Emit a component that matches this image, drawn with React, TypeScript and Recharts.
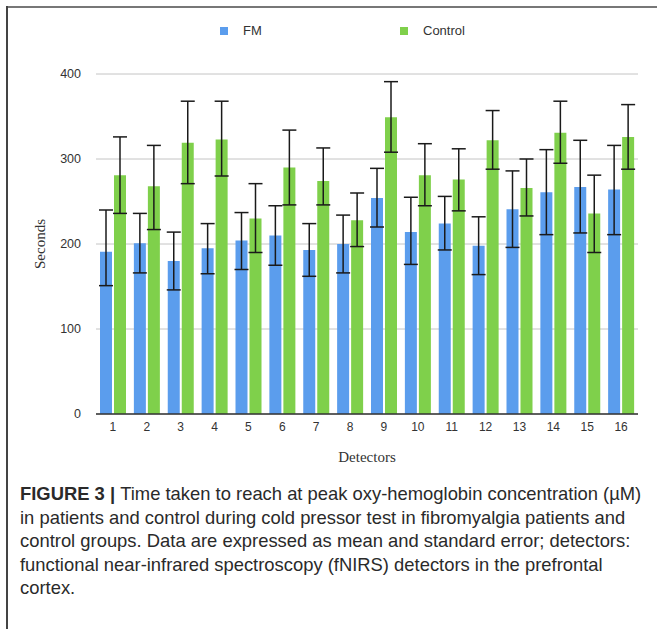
import { BarChart, Bar, XAxis, YAxis, CartesianGrid, ErrorBar, Label } from 'recharts';

const detectors = ['1', '2', '3', '4', '5', '6', '7', '8', '9', '10', '11', '12', '13', '14', '15', '16'];
const fmMean = [191, 201, 180, 195, 204, 210, 193, 200, 254, 214, 224, 198, 241, 261, 267, 264];
const fmLow = [151, 166, 146, 165, 170, 175, 162, 166, 220, 176, 193, 164, 196, 211, 213, 211];
const fmHigh = [240, 236, 214, 224, 237, 245, 224, 234, 289, 255, 256, 232, 286, 311, 322, 316];
const ctrlMean = [281, 268, 319, 323, 230, 290, 274, 228, 349, 281, 276, 322, 266, 331, 236, 326];
const ctrlLow = [236, 217, 271, 280, 190, 246, 246, 197, 308, 245, 239, 288, 233, 295, 190, 288];
const ctrlHigh = [326, 316, 368, 368, 271, 334, 313, 260, 391, 318, 312, 357, 300, 368, 281, 364];
const yTicks = [0, 100, 200, 300, 400];

const data = detectors.map((d, i) => ({
  detector: d,
  fm: fmMean[i],
  fmErr: [fmMean[i] - fmLow[i], fmHigh[i] - fmMean[i]],
  control: ctrlMean[i],
  controlErr: [ctrlMean[i] - ctrlLow[i], ctrlHigh[i] - ctrlMean[i]],
}));

const BLUE = '#5b9ded';
const GREEN = '#7fd04b';
const sans = 'Arial, "Liberation Sans", Helvetica, sans-serif';
const serif = '"Liberation Serif", "Times New Roman", serif';

const captionLines = [
  'Time taken to reach at peak oxy-hemoglobin concentration (\u00b5M)',
  'in patients and control during cold pressor test in fibromyalgia patients and',
  'control groups. Data are expressed as mean and standard error; detectors:',
  'functional near-infrared spectroscopy (fNIRS) detectors in the prefrontal',
  'cortex.',
];

function LegendItem({ x, color, text }: { x: number; color: string; text: string }) {
  return (
    <div style={{ position: 'absolute', left: x, top: 23, display: 'flex', alignItems: 'center', fontFamily: sans, fontSize: 13, color: '#333' }}>
      <div style={{ width: 8, height: 8, background: color, marginRight: 15 }} />
      <span>{text}</span>
    </div>
  );
}

export default function App() {
  return (
    <div style={{ position: 'absolute', left: 0, top: 0, width: 657, height: 629, background: '#fff', overflow: 'hidden' }}>
      <div style={{ position: 'absolute', left: 6, top: 6, width: 651, height: 2, background: '#777' }} />
      <div style={{ position: 'absolute', left: 6, top: 6, width: 1.5, height: 623, background: '#444' }} />
      <LegendItem x={220} color={BLUE} text="FM" />
      <LegendItem x={400} color={GREEN} text="Control" />
      <div style={{ position: 'absolute', left: 0, top: 0 }}>
        <BarChart
          width={657}
          height={475}
          data={data}
          barSize={12}
          barGap={2}
          margin={{ top: 74, right: 19, left: 36, bottom: 31 }}
        >
          <CartesianGrid vertical={false} stroke="#c4c4c4" strokeWidth={1} />
          <XAxis
            dataKey="detector"
            axisLine={{ stroke: '#333', strokeWidth: 1.5 }}
            tickLine={false}
            tick={{ fill: '#333', fontSize: 12, fontFamily: sans }}
            height={30}
            interval={0}
          >
            <Label value="Detectors" position="insideBottom" offset={-18} style={{ fontFamily: serif, fontSize: 15, fill: '#333' }} />
          </XAxis>
          <YAxis
            domain={[0, 400]}
            ticks={yTicks}
            axisLine={false}
            tickLine={false}
            width={60}
            tick={{ fill: '#333', fontSize: 12.5, fontFamily: sans }}
            tickMargin={9}
          >
            <Label value="Seconds" angle={-90} position="insideLeft" offset={4} style={{ fontFamily: serif, fontSize: 15, fill: '#333', textAnchor: 'middle' }} />
          </YAxis>
          <Bar dataKey="fm" fill={BLUE} isAnimationActive={false}>
            <ErrorBar dataKey="fmErr" width={7} stroke="#1a1a1a" strokeWidth={1.5} direction="y" />
          </Bar>
          <Bar dataKey="control" fill={GREEN} isAnimationActive={false}>
            <ErrorBar dataKey="controlErr" width={7} stroke="#1a1a1a" strokeWidth={1.5} direction="y" />
          </Bar>
        </BarChart>
      </div>
      <div style={{ position: 'absolute', left: 20, top: 482, fontFamily: sans, fontSize: 18.4, lineHeight: '23.5px', color: '#2a2a2a', whiteSpace: 'nowrap' }}>
        {captionLines.map((line, i) => (
          <div key={i}>
            {i === 0 && <b style={{ fontWeight: 700 }}>FIGURE 3 | </b>}
            {line}
          </div>
        ))}
      </div>
    </div>
  );
}
